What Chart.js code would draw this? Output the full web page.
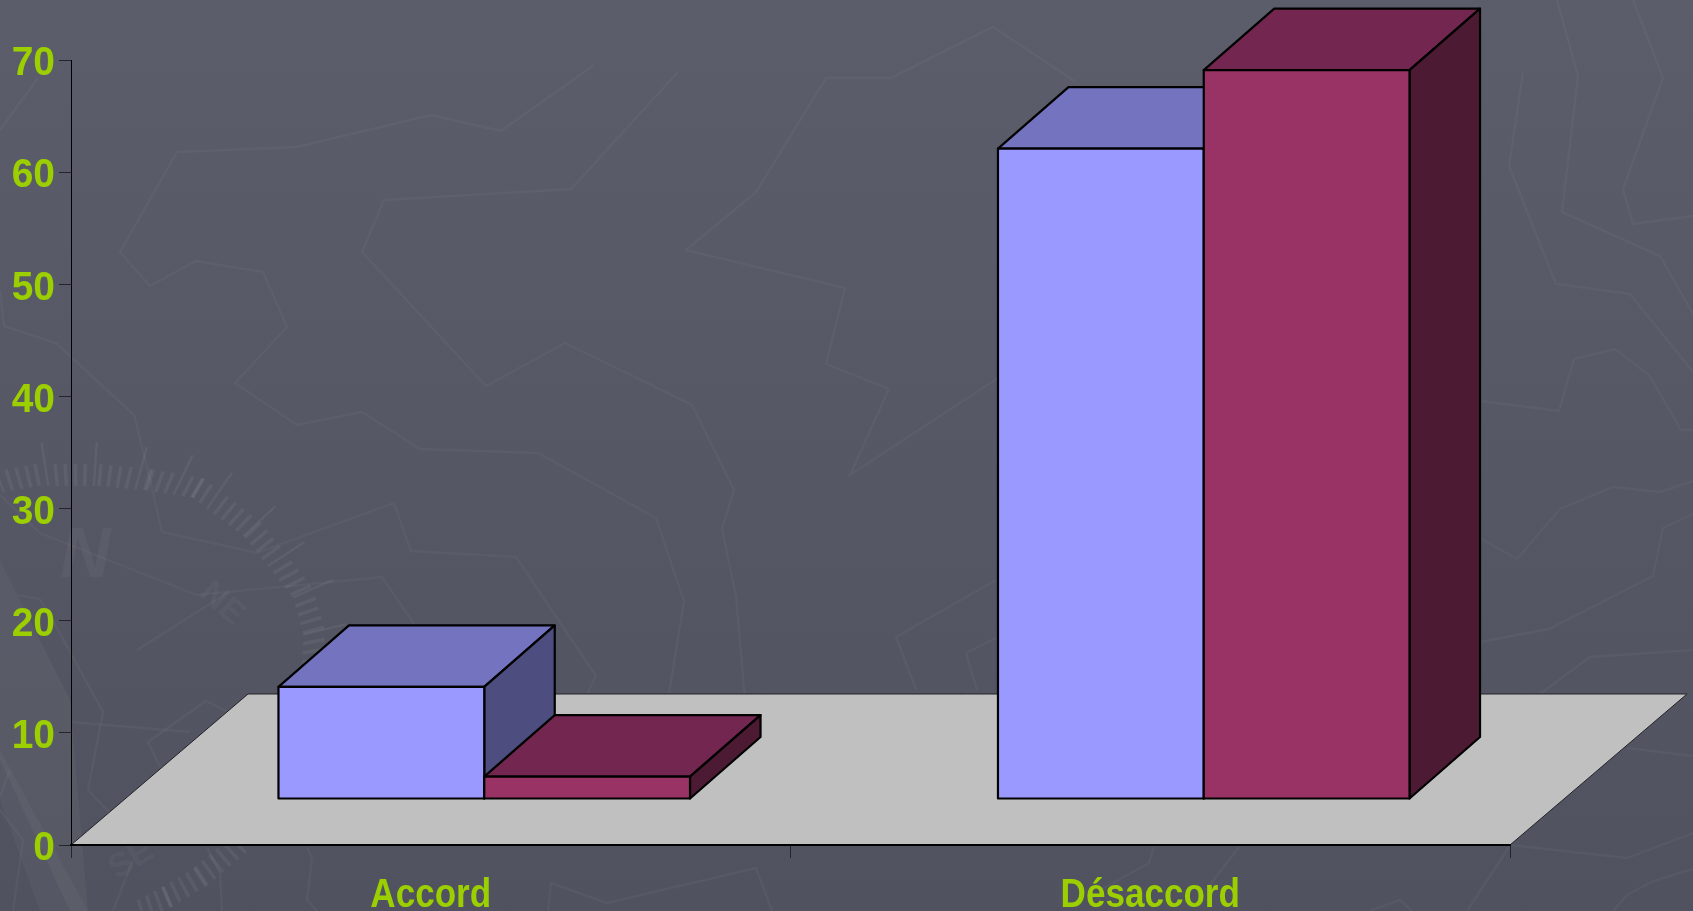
<!DOCTYPE html>
<html lang="fr">
<head>
<meta charset="utf-8">
<title>Accord / Désaccord</title>
<script src="https://cdn.jsdelivr.net/npm/chart.js@4"></script>
<style>
  html, body { margin: 0; padding: 0; width: 1693px; height: 911px; overflow: hidden; }
  body { position: relative; background: linear-gradient(180deg, #5b5d6b 0%, #50525f 100%); }
  #decor, #chart { position: absolute; left: 0; top: 0; }
</style>
</head>
<body>
<svg id="decor" width="1693" height="911" viewBox="0 0 1693 911" xmlns="http://www.w3.org/2000/svg"></svg>
<canvas id="chart" width="1693" height="911"></canvas>
<script>
// ---- chart data ----
const categories = ['Accord', 'Désaccord'];
const seriesBlue = [10, 58];
const seriesMaroon = [2, 65];
const yTicks = [0, 10, 20, 30, 40, 50, 60, 70];

// ---- decoration of the slide background (not data) ----
const mapLines = [
  [[594,65],[501,131],[431,115],[297,147],[177,152],[120,252],[150,286],[196,261],[263,272],[287,327],[235,383],[297,425],[362,412],[420,449],[538,453],[656,518],[684,601],[668,700]],
  [[678,72],[571,189],[384,200],[362,252],[486,386],[565,343],[692,405],[734,490],[722,529],[736,596],[745,700]],
  [[38,78],[0,130]],
  [[0,290],[4,326],[56,343],[134,415],[147,467],[162,532],[257,553],[394,503],[411,551],[516,557],[596,676],[584,700]],
  [[0,495],[40,533],[70,545],[197,595],[382,577],[425,640]],
  [[137,650],[227,593]],
  [[18,595],[40,599],[58,630],[103,712],[88,790],[110,813]],
  [[70,722],[190,732]],
  [[160,767],[148,742],[206,701],[230,713]],
  [[307,847],[312,858],[307,900],[317,911]],
  [[548,911],[551,883],[607,903],[756,868],[772,911]],
  [[686,250],[756,192],[826,78],[891,78],[993,27],[1076,82]],
  [[686,250],[845,288],[826,364],[889,389],[850,475],[998,378]],
  [[916,690],[896,637],[996,580]],
  [[977,690],[966,653],[998,637]],
  [[1154,847],[1149,863],[1100,890]],
  [[1239,847],[1206,890]],
  [[1509,847],[1467,911]],
  [[1369,911],[1400,900],[1412,911]],
  [[1523,73],[1509,166],[1556,284],[1630,294],[1693,372]],
  [[1557,0],[1578,76],[1562,212],[1660,256],[1693,314]],
  [[1633,0],[1663,78],[1623,189],[1633,224],[1693,216]],
  [[1480,401],[1559,411],[1574,359],[1615,349],[1649,375],[1681,430],[1693,430]],
  [[1480,538],[1517,559],[1560,509],[1613,487],[1660,492],[1693,481]],
  [[1480,642],[1549,629],[1653,576],[1663,528],[1693,514]],
  [[1540,694],[1590,657],[1693,650]],
  [[1627,748],[1693,756]],
  [[1510,845],[1627,858],[1693,833]],
  [[1693,869],[1653,881],[1627,895],[1613,911]],
  [[0,810],[23,840],[13,911]],
  [[10,770],[0,797]],
  [[133,860],[113,911]],
  [[207,847],[220,873],[222,911]]
];
const compassBands = [
  [[0,482],[37,475],[100,475],[150,480],[198,488],[253,530],[303,593],[314,632],[313,662]],
  [[238,845],[200,877],[167,897],[140,911]]
];
(function drawDecor() {
  const svg = document.getElementById('decor');
  const NS = 'http://www.w3.org/2000/svg';
  const add = (tag, attrs, text) => {
    const el = document.createElementNS(NS, tag);
    Object.keys(attrs).forEach(k => el.setAttribute(k, attrs[k]));
    if (text) el.textContent = text;
    svg.appendChild(el);
  };
  add('polygon', { points: '0,560 50,660 70,700 88,911 70,911 0,760', fill: 'rgba(255,255,255,0.035)' });
  add('polygon', { points: '0,750 88,911 40,911 0,800', fill: 'rgba(255,255,255,0.03)' });
  mapLines.forEach(line => add('polyline', {
    points: line.map(p => p.join(',')).join(' '),
    fill: 'none', stroke: 'rgba(255,255,255,0.035)', 'stroke-width': 2.4
  }));
  const cx = 80, cy = 690, step = 9.6;
  compassBands.forEach((band, bi) => {
    let count = 0;
    for (let i = 0; i < band.length - 1; i++) {
      const [x0, y0] = band[i], [x1, y1] = band[i + 1];
      const len = Math.hypot(x1 - x0, y1 - y0);
      for (let d = 0; d < len; d += step) {
        const px = x0 + (x1 - x0) * d / len, py = y0 + (y1 - y0) * d / len;
        const r = Math.hypot(px - cx, py - cy), ux = (px - cx) / r, uy = (py - cy) / r;
        const long = bi === 0 && count % 5 === 0;
        add('line', {
          x1: px - ux * 11, y1: py - uy * 11,
          x2: px + ux * (long ? 33 : 11), y2: py + uy * (long ? 33 : 11),
          stroke: 'rgba(255,255,255,0.055)', 'stroke-width': long ? 2.4 : 3.6
        });
        count++;
      }
    }
  });
  add('text', { x: 60, y: 577, 'font-family': 'Liberation Sans', 'font-size': 70, 'font-weight': 700, 'font-style': 'italic', fill: 'rgba(255,255,255,0.04)' }, 'N');
  add('text', { transform: 'translate(198,595) rotate(42)', 'font-family': 'Liberation Sans', 'font-size': 34, 'font-weight': 700, fill: 'rgba(255,255,255,0.05)' }, 'NE');
  add('text', { transform: 'translate(117,880) rotate(-32)', 'font-family': 'Liberation Sans', 'font-size': 34, 'font-weight': 700, fill: 'rgba(255,255,255,0.05)' }, 'SE');
})();

// ---- chart appearance ----
const labelFont = { family: '"Liberation Sans", sans-serif', size: 41, weight: 'bold' };
const labelColor = '#9ccf00';
const labelShape = { x: { squeeze: 0.855, drop: 0 }, y: { squeeze: 0.95, drop: 4 } };
const palette = [
  { front: '#9999ff', top: '#7373bf', side: '#4d4d80' },
  { front: '#993366', top: '#732650', side: '#4d1a33' }
];
const floorDepth = { x: 177, y: 151 };
const barOrigin = { x: 53.5, y: 46 };
const barDepth = { x: 70.5, y: 61.5 };

function polygon(ctx, pts, fill, stroke, width) {
  ctx.beginPath();
  pts.forEach((p, i) => i ? ctx.lineTo(p[0], p[1]) : ctx.moveTo(p[0], p[1]));
  ctx.closePath();
  ctx.fillStyle = fill;
  ctx.fill();
  if (stroke) {
    ctx.strokeStyle = stroke;
    ctx.lineWidth = width;
    ctx.lineJoin = 'round';
    ctx.stroke();
  }
}

// Condensed axis labels: the labels stay the library's own, drawn horizontally squeezed.
function squeezeLabels(scale, shape) {
  if (scale.$squeezed) return;
  scale.$squeezed = true;
  const original = scale.drawLabels;
  scale.drawLabels = function (area) {
    const ctx = scale.ctx;
    ctx.fillText = function (text, x, y) {
      ctx.save();
      ctx.scale(shape.squeeze, 1);
      CanvasRenderingContext2D.prototype.fillText.call(ctx, text, x / shape.squeeze, y + shape.drop);
      ctx.restore();
    };
    original.call(scale, area);
    delete ctx.fillText;
  };
}

const perspective3d = {
  id: 'perspective3d',
  beforeDraw(chart) {
    const { ctx, scales: { x, y } } = chart;
    squeezeLabels(x, labelShape.x);
    squeezeLabels(y, labelShape.y);
    const by = y.getPixelForValue(0);
    polygon(ctx, [
      [x.left, by], [x.right, by],
      [x.right + floorDepth.x, by - floorDepth.y], [x.left + floorDepth.x, by - floorDepth.y]
    ], '#c0c0c0', '#222228', 1);
  },
  beforeDatasetsDraw(chart) {
    const { ctx } = chart;
    ctx.save();
    ctx.translate(barOrigin.x, -barOrigin.y);
    chart.data.datasets.forEach((ds, i) => {
      chart.getDatasetMeta(i).data.forEach(bar => {
        const l = bar.x - bar.width / 2, r = bar.x + bar.width / 2, t = bar.y, b = bar.base;
        const dx = barDepth.x, dy = barDepth.y;
        polygon(ctx, [[l, t], [r, t], [r + dx, t - dy], [l + dx, t - dy]], palette[i].top, '#000', 2.2);
        polygon(ctx, [[r, t], [r + dx, t - dy], [r + dx, b - dy], [r, b]], palette[i].side, '#000', 2.2);
        bar.draw(ctx);
        ctx.strokeStyle = '#000';
        ctx.lineWidth = 2.2;
        ctx.strokeRect(l, t, r - l, b - t);
      });
    });
    ctx.restore();
    return false;
  }
};

new Chart(document.getElementById('chart'), {
  type: 'bar',
  data: {
    labels: categories,
    datasets: [
      { label: 'Série 1', data: seriesBlue, backgroundColor: palette[0].front, borderWidth: 0 },
      { label: 'Série 2', data: seriesMaroon, backgroundColor: palette[1].front, borderWidth: 0 }
    ]
  },
  options: {
    responsive: false,
    animation: false,
    devicePixelRatio: 1,
    events: [],
    categoryPercentage: 0.572,
    barPercentage: 1,
    layout: { padding: { left: 0, top: 60, right: 183, bottom: 0 } },
    plugins: { legend: { display: false }, tooltip: { enabled: false }, title: { display: false } },
    scales: {
      x: {
        grid: { drawOnChartArea: false, drawTicks: true, tickLength: 13, color: '#24242c', offset: true },
        border: { color: '#000', width: 2 },
        ticks: { color: labelColor, font: labelFont, padding: 13, maxRotation: 0 },
        afterFit(s) { s.height = 66; s.paddingLeft = s.paddingRight = s.paddingTop = s.paddingBottom = 0; }
      },
      y: {
        min: yTicks[0],
        max: yTicks[yTicks.length - 1],
        grid: { drawOnChartArea: false, drawTicks: true, tickLength: 12, color: '#24242c' },
        border: { color: '#000', width: 1 },
        afterBuildTicks(s) { s.ticks = yTicks.map(v => ({ value: v })); },
        ticks: { color: labelColor, font: labelFont, padding: 4 },
        afterFit(s) { s.width = 71; s.paddingLeft = s.paddingRight = s.paddingTop = s.paddingBottom = 0; }
      }
    }
  },
  plugins: [perspective3d]
});
</script>
</body>
</html>
